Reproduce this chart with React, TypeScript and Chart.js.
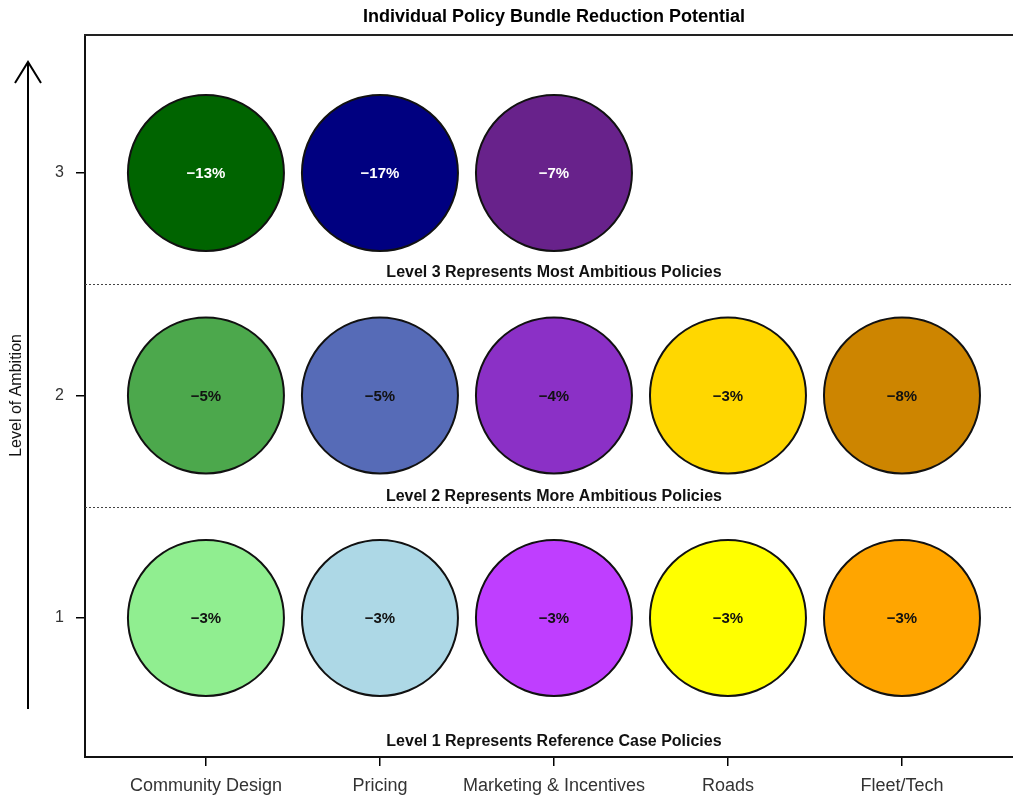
import React, { useEffect, useRef } from "react";
import { Chart, registerables } from "chart.js";

Chart.register(...registerables);

const categories = ["Community Design", "Pricing", "Marketing & Incentives", "Roads", "Fleet/Tech"];
const levelTicks = ["1", "2", "3"];
const level1Values = [-3, -3, -3, -3, -3];
const level2Values = [-5, -5, -4, -3, -8];
const level3Values = [-13, -17, -7];
const level1Colors = ["#90EE90", "#ADD8E6", "#BF3EFF", "#FFFF00", "#FFA500"];
const level2Colors = ["#4CA84C", "#566BB7", "#8B30C6", "#FFD700", "#CD8500"];
const level3Colors = ["#006400", "#000080", "#68228B"];
const levelNotes = [
  "Level 1 Represents Reference Case Policies",
  "Level 2 Represents More Ambitious Policies",
  "Level 3 Represents Most Ambitious Policies",
];
const chartTitle = "Individual Policy Bundle Reduction Potential";
const yTitle = "Level of Ambition";

const fmt = (v: number) => (v < 0 ? "\u2212" + Math.abs(v) : String(v)) + "%";

export default function App() {
  const ref = useRef<HTMLCanvasElement | null>(null);
  useEffect(() => {
    if (!ref.current) return;
    const mk = (vals: number[], level: number) => vals.map((v, i) => ({ x: i, y: level, v }));
    const font = "'Liberation Sans', Arial, sans-serif";
    const deco = {
      id: "deco",
      beforeDatasetsDraw(chart: any) {
        const { ctx, chartArea, scales } = chart;
        ctx.save();
        ctx.strokeStyle = "#444";
        ctx.lineWidth = 1;
        ctx.setLineDash([2, 2]);
        [1.5, 2.5].forEach((lv) => {
          const y = Math.round(scales.y.getPixelForValue(lv)) + 0.5;
          ctx.beginPath();
          ctx.moveTo(chartArea.left, y);
          ctx.lineTo(chartArea.right, y);
          ctx.stroke();
        });
        ctx.restore();
      },
      afterDatasetsDraw(chart: any) {
        const { ctx, chartArea, scales } = chart;
        ctx.save();
        // value labels
        ctx.font = `bold 15px ${font}`;
        ctx.textAlign = "center";
        ctx.textBaseline = "middle";
        chart.data.datasets.forEach((ds: any, di: number) => {
          const meta = chart.getDatasetMeta(di);
          meta.data.forEach((el: any, i: number) => {
            ctx.fillStyle = di === 2 ? "#FFFFFF" : "#111111";
            ctx.fillText(fmt(ds.data[i].v), el.x, el.y + 1);
          });
        });
        // level notes
        ctx.font = `bold 16px ${font}`;
        ctx.fillStyle = "#111";
        const noteY = [0.443, 1.545, 2.55];
        levelNotes.forEach((t, i) => {
          ctx.fillText(t, scales.x.getPixelForValue(2), scales.y.getPixelForValue(noteY[i]));
        });
        // title
        ctx.font = `bold 18px ${font}`;
        ctx.fillStyle = "#000";
        ctx.fillText(chartTitle, scales.x.getPixelForValue(2), 17);
        // top border
        ctx.strokeStyle = "#222";
        ctx.lineWidth = 2;
        ctx.beginPath();
        ctx.moveTo(chartArea.left - 1, chartArea.top);
        ctx.lineTo(chartArea.right, chartArea.top);
        ctx.stroke();
        // arrow
        ctx.strokeStyle = "#000";
        ctx.lineWidth = 2;
        ctx.beginPath();
        ctx.moveTo(28, 709);
        ctx.lineTo(28, 62);
        ctx.moveTo(15, 83);
        ctx.lineTo(28, 62);
        ctx.lineTo(41, 83);
        ctx.stroke();
        // y title
        ctx.translate(17, scales.y.getPixelForValue(2));
        ctx.rotate(-Math.PI / 2);
        ctx.font = `16px ${font}`;
        ctx.fillStyle = "#111";
        ctx.fillText(yTitle, 0, 0);
        ctx.restore();
      },
    };
    const chart = new Chart(ref.current, {
      type: "bubble",
      data: {
        datasets: [
          { data: mk(level1Values, 1), backgroundColor: level1Colors },
          { data: mk(level2Values, 2), backgroundColor: level2Colors },
          { data: mk(level3Values, 3), backgroundColor: level3Colors },
        ].map((d) => ({ ...d, radius: 78, borderColor: "#111", borderWidth: 2, hoverRadius: 0 })) as any,
      },
      options: {
        animation: false,
        responsive: false,
        layout: { autoPadding: false, padding: { top: 35, left: 0, right: 0, bottom: 0 } },
        plugins: { legend: { display: false }, tooltip: { enabled: false }, title: { display: false } },
        scales: {
          x: {
            type: "linear",
            min: -0.695,
            max: 4.638,
            afterFit: (a: any) => { a.height = 39; a.paddingLeft = 0; a.paddingRight = 0; },
            afterBuildTicks: (a: any) => { a.ticks = categories.map((_, i) => ({ value: i })); },
            ticks: {
              callback: (v: any) => categories[v] ?? "",
              color: "#333",
              font: { family: font, size: 18 },
              padding: 9,
              maxRotation: 0,
              autoSkip: false,
            },
            grid: { display: true, drawOnChartArea: false, drawTicks: true, tickLength: 9, color: "#000", lineWidth: 1.5 },
            border: { display: true, color: "#111", width: 2 },
          },
          y: {
            type: "linear",
            min: 0.375,
            max: 3.62,
            afterFit: (a: any) => { a.width = 85; a.paddingTop = 0; a.paddingBottom = 0; },
            afterBuildTicks: (a: any) => { a.ticks = levelTicks.map((t) => ({ value: Number(t) })); },
            ticks: {
              callback: (v: any) => levelTicks[levelTicks.indexOf(String(v))] ?? "",
              color: "#333",
              font: { family: font, size: 16 },
              padding: 12,
            },
            grid: { display: true, drawOnChartArea: false, drawTicks: true, tickLength: 9, color: "#000", lineWidth: 1.5 },
            border: { display: true, color: "#111", width: 2 },
          },
        },
      },
      plugins: [deco],
    } as any);
    return () => chart.destroy();
  }, []);
  return (
    <div style={{ position: "fixed", left: 0, top: 0, width: 1013, height: 796, background: "#fff" }}>
      <canvas ref={ref} width={1013} height={796} style={{ width: 1013, height: 796, display: "block" }} />
    </div>
  );
}
